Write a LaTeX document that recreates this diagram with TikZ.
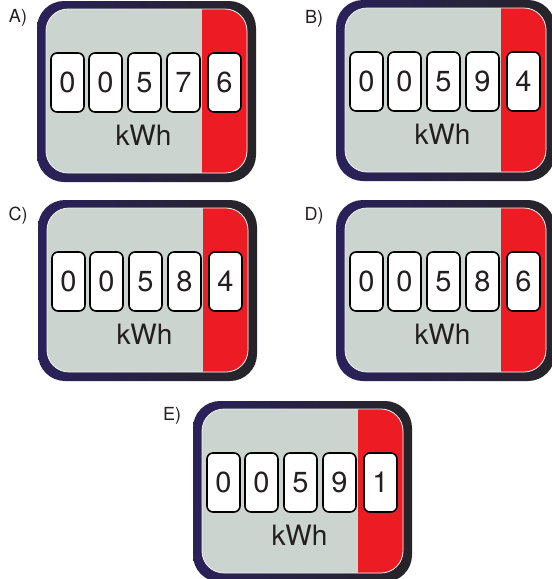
\documentclass[tikz,border=0pt]{standalone}
\usepackage{fontspec}
\setmainfont{TeX Gyre Heros}
\definecolor{frameleft}{RGB}{42,33,90}
\definecolor{frameright}{RGB}{38,36,40}
\definecolor{panel}{RGB}{203,212,206}
\definecolor{meterred}{RGB}{237,28,36}
\definecolor{ink}{RGB}{35,31,32}
\tikzset{
  digitbox/.style={draw=black, line width=1.6pt, fill=white, rounded corners=6pt,
    minimum width=33pt, minimum height=59pt, inner sep=0pt, text=ink,
    font=\fontsize{29}{29}\selectfont},
  unitlabel/.style={text=ink, font=\fontsize{28}{28}\selectfont, inner sep=0pt, anchor=base},
  caselabel/.style={text=ink, font=\fontsize{18}{18}\selectfont, inner sep=0pt, anchor=base},
}
% #1 name, #2 top-left corner, #3-#7 the five drums
\newcommand\kwhmeter[7]{%
  \begin{scope}[shift={(#2)}]
    \shade[left color=frameleft, right color=frameright, rounded corners=27pt]
      (0,0) rectangle (219,181);
    \begin{scope}
      \clip[rounded corners=22pt] (9,8) rectangle (210,172);
      \fill[panel] (0,0) rectangle (219,181);
      \fill[meterred] (165,0) rectangle (219,181);
    \end{scope}
    \draw[white!75!panel, line width=0.8pt, rounded corners=22pt] (9,8) rectangle (210,172);
    \node[digitbox] (#1-d1) at (30.5,81.5) {#3};
    \node[digitbox] (#1-d2) at (68.5,81.5) {#4};
    \node[digitbox] (#1-d3) at (107.5,81.5) {#5};
    \node[digitbox] (#1-d4) at (146.5,81.5) {#6};
    \node[digitbox] (#1-d5) at (187.5,81.5) {#7};
    \node[unitlabel] (#1-unit) at (106.5,144) {kWh};
  \end{scope}%
}
\begin{document}
\begin{tikzpicture}[x=1pt, y=-1pt]
  \clip (0,0) rectangle (552,579);
  \fill[white] (0,0) rectangle (552,579);

  \kwhmeter{A}{37,1}{0}{0}{5}{7}{6}
  \kwhmeter{B}{336,0}{0}{0}{5}{9}{4}
  \kwhmeter{C}{38,200}{0}{0}{5}{8}{4}
  \kwhmeter{D}{336,200}{0}{0}{5}{8}{6}
  \kwhmeter{E}{193,401}{0}{0}{5}{9}{1}

  \node[caselabel] (labA) at (18,22) {A)};
  \node[caselabel] (labB) at (314,23) {B)};
  \node[caselabel] (labC) at (18,220) {C)};
  \node[caselabel] (labD) at (314,220) {D)};
  \node[caselabel] (labE) at (172,420) {E)};
\end{tikzpicture}
\end{document}
